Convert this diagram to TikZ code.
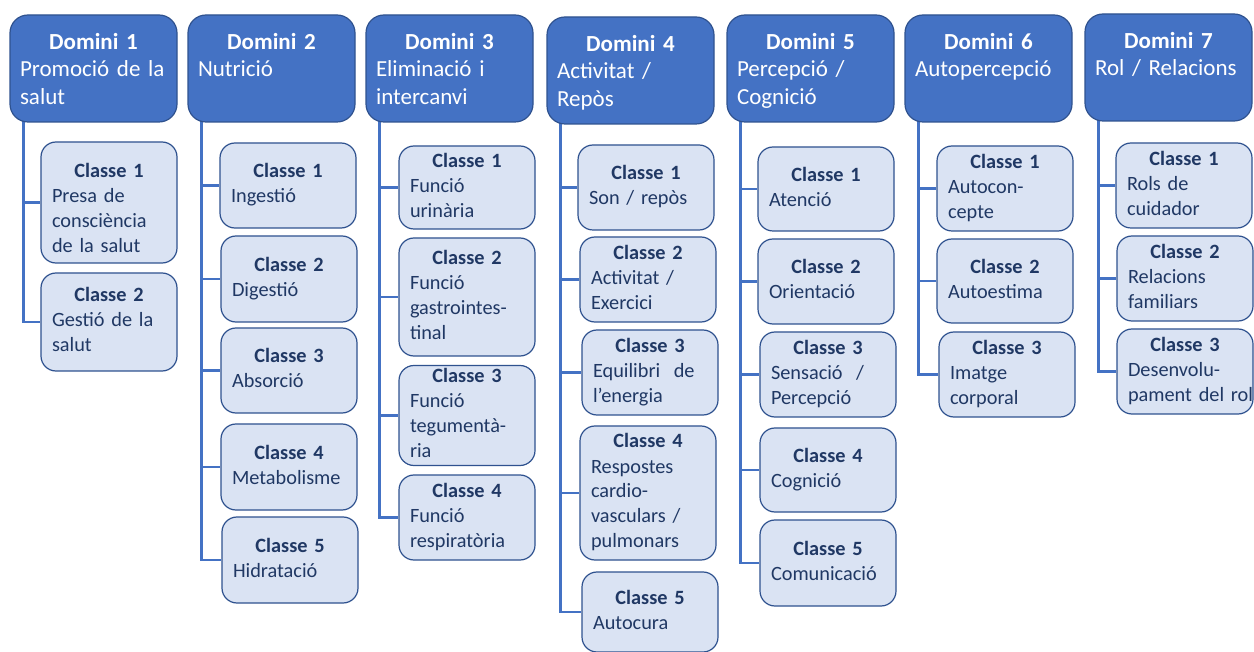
\documentclass[tikz,border=0pt]{standalone}
\usepackage{fontspec}
\setmainfont{Carlito}
\usetikzlibrary{calc,backgrounds}

\definecolor{domfill}{HTML}{4472C4}
\definecolor{domline}{HTML}{2F528F}
\definecolor{clsfill}{HTML}{DAE3F3}
\definecolor{clsline}{HTML}{2F528F}
\definecolor{clstext}{HTML}{203864}
\definecolor{linkcol}{HTML}{4472C4}

% heading line centred, description lines flush left
\newcommand\domlabel[2]{\makebox[147pt][c]{\rule{0pt}{25pt}\bfseries #1}\\#2\strut}
\newcommand\clslabel[3][17.5pt]{\makebox[114pt][c]{\rule{0pt}{#1}\bfseries #2}\\#3\strut}

\tikzset{
  dombox/.style={draw=domline, fill=domfill, line width=1.2pt, rounded corners=18pt,
    minimum width=167pt, minimum height=107pt, text width=147pt, inner sep=0pt,
    align=left, text=white, font=\fontsize{23}{27.5}\selectfont},
  classbox/.style={draw=clsline, fill=clsfill, line width=1.2pt, rounded corners=15pt,
    minimum width=136pt, text width=114pt, inner sep=0pt,
    align=left, text=clstext, font=\fontsize{20.3}{25}\selectfont},
  link/.style={draw=linkcol, line width=2.6pt}
}

\begin{document}
\begin{tikzpicture}[x=1pt,y=-1pt]
\useasboundingbox (0,0) rectangle (1254,652);

% domains
\node[dombox] (d1) at (93.5,68.5)   {\domlabel{Domini 1}{Promoció de la\\salut}};
\node[dombox] (d2) at (271.5,68.5)  {\domlabel{Domini 2}{Nutrició\\}};
\node[dombox] (d3) at (449.5,68.5)  {\domlabel{Domini 3}{Eliminació i\\intercanvi}};
\node[dombox] (d4) at (630.5,70.5)  {\domlabel{Domini 4}{Activitat /\\Repòs}};
\node[dombox] (d5) at (810.5,68.5)  {\domlabel{Domini 5}{Percepció /\\Cognició}};
\node[dombox] (d6) at (988.5,68.5)  {\domlabel{Domini 6}{Autopercepció\\}};
\node[dombox] (d7) at (1168.5,67.5) {\domlabel{Domini 7}{Rol / Relacions\\}};

% classes of domain 1
\node[classbox, minimum height=121pt] (c11) at (109,202.5) {\clslabel[33pt]{Classe 1}{Presa de\\consciència\\de la salut}};
\node[classbox, minimum height=98pt]  (c12) at (109,322)   {\clslabel{Classe 2}{Gestió de la\\salut}};

% classes of domain 2
\node[classbox, minimum height=85pt] (c21) at (288,185.5) {\clslabel{Classe 1}{Ingestió}};
\node[classbox, minimum height=86pt] (c22) at (289,279)   {\clslabel{Classe 2}{Digestió}};
\node[classbox, minimum height=85pt] (c23) at (289,370.5) {\clslabel{Classe 3}{Absorció}};
\node[classbox, minimum height=86pt] (c24) at (289,467)   {\clslabel{Classe 4}{Metabolisme}};
\node[classbox, minimum height=86pt] (c25) at (290,560)   {\clslabel{Classe 5}{Hidratació}};

% classes of domain 3
\node[classbox, minimum height=83pt]  (c31) at (467,187.5) {\clslabel{Classe 1}{Funció\\urinària}};
\node[classbox, minimum height=118pt] (c32) at (467,297)   {\clslabel{Classe 2}{Funció\\gastrointes-\\tinal}};
\node[classbox, minimum height=99pt]  (c33) at (467,415.5) {\clslabel{Classe 3}{Funció\\tegumentà-\\ria}};
\node[classbox, minimum height=85pt]  (c34) at (467,517.5) {\clslabel{Classe 4}{Funció\\respiratòria}};

% classes of domain 4
\node[classbox, minimum height=85pt]  (c41) at (646,187.5) {\clslabel{Classe 1}{Son / repòs}};
\node[classbox, minimum height=85pt]  (c42) at (648,279.5) {\clslabel{Classe 2}{Activitat /\\Exercici}};
\node[classbox, minimum height=85pt]  (c43) at (650,372.5) {\clslabel{Classe 3}{Equilibri\ \ de\\l’energia}};
\node[classbox, minimum height=134pt] (c44) at (648,493)   {\clslabel{Classe 4}{Respostes\\cardio-\\vasculars /\\pulmonars}};
\node[classbox, minimum height=80pt]  (c45) at (650,612)   {\clslabel{Classe 5}{Autocura}};

% classes of domain 5
\node[classbox, minimum height=84pt] (c51) at (826,189)   {\clslabel{Classe 1}{Atenció}};
\node[classbox, minimum height=85pt] (c52) at (826,281.5) {\clslabel{Classe 2}{Orientació}};
\node[classbox, minimum height=85pt] (c53) at (828,374.5) {\clslabel{Classe 3}{Sensació\ \ /\\Percepció}};
\node[classbox, minimum height=84pt] (c54) at (828,470)   {\clslabel{Classe 4}{Cognició}};
\node[classbox, minimum height=86pt] (c55) at (828,563)   {\clslabel{Classe 5}{Comunicació}};

% classes of domain 6
\node[classbox, minimum height=85pt] (c61) at (1005,188.5) {\clslabel{Classe 1}{Autocon-\\cepte}};
\node[classbox, minimum height=84pt] (c62) at (1005,281)   {\clslabel{Classe 2}{Autoestima}};
\node[classbox, minimum height=85pt] (c63) at (1007,374.5) {\clslabel{Classe 3}{Imatge\\corporal}};

% classes of domain 7
\node[classbox, minimum height=85pt] (c71) at (1184,185.5) {\clslabel{Classe 1}{Rols de\\cuidador}};
\node[classbox, minimum height=85pt] (c72) at (1185,278.5) {\clslabel{Classe 2}{Relacions\\familiars}};
\node[classbox, minimum height=85pt] (c73) at (1185,371.5) {\clslabel{Classe 3}{Desenvolu-\\\mbox{pament del rol}}};

\begin{scope}[on background layer]
  \fill[white] (0,0) rectangle (1254,652);
  % trunk of each domain, starting inside the domain box
  \foreach \d in {1,...,7} {
    \coordinate (t\d) at ($(d\d.south west)+(14,-10)$);
  }
  % domain 1
  \draw[link] (t1) |- (c12.west);
  \draw[link] (t1 |- c11.west) -- (c11.west);
  % domain 2
  \draw[link] (t2) |- (c25.west);
  \foreach \c in {1,2,3,4} { \draw[link] (t2 |- c2\c.west) -- (c2\c.west); }
  % domain 3
  \draw[link] (t3) |- (c34.west);
  \foreach \c in {1,2,3} { \draw[link] (t3 |- c3\c.west) -- (c3\c.west); }
  % domain 4
  \draw[link] (t4) |- (c45.west);
  \foreach \c in {1,2,3,4} { \draw[link] (t4 |- c4\c.west) -- (c4\c.west); }
  % domain 5
  \draw[link] (t5) |- (c55.west);
  \foreach \c in {1,2,3,4} { \draw[link] (t5 |- c5\c.west) -- (c5\c.west); }
  % domain 6
  \draw[link] (t6) |- (c63.west);
  \foreach \c in {1,2} { \draw[link] (t6 |- c6\c.west) -- (c6\c.west); }
  % domain 7
  \draw[link] (t7) |- (c73.west);
  \foreach \c in {1,2} { \draw[link] (t7 |- c7\c.west) -- (c7\c.west); }
\end{scope}
\end{tikzpicture}
\end{document}
